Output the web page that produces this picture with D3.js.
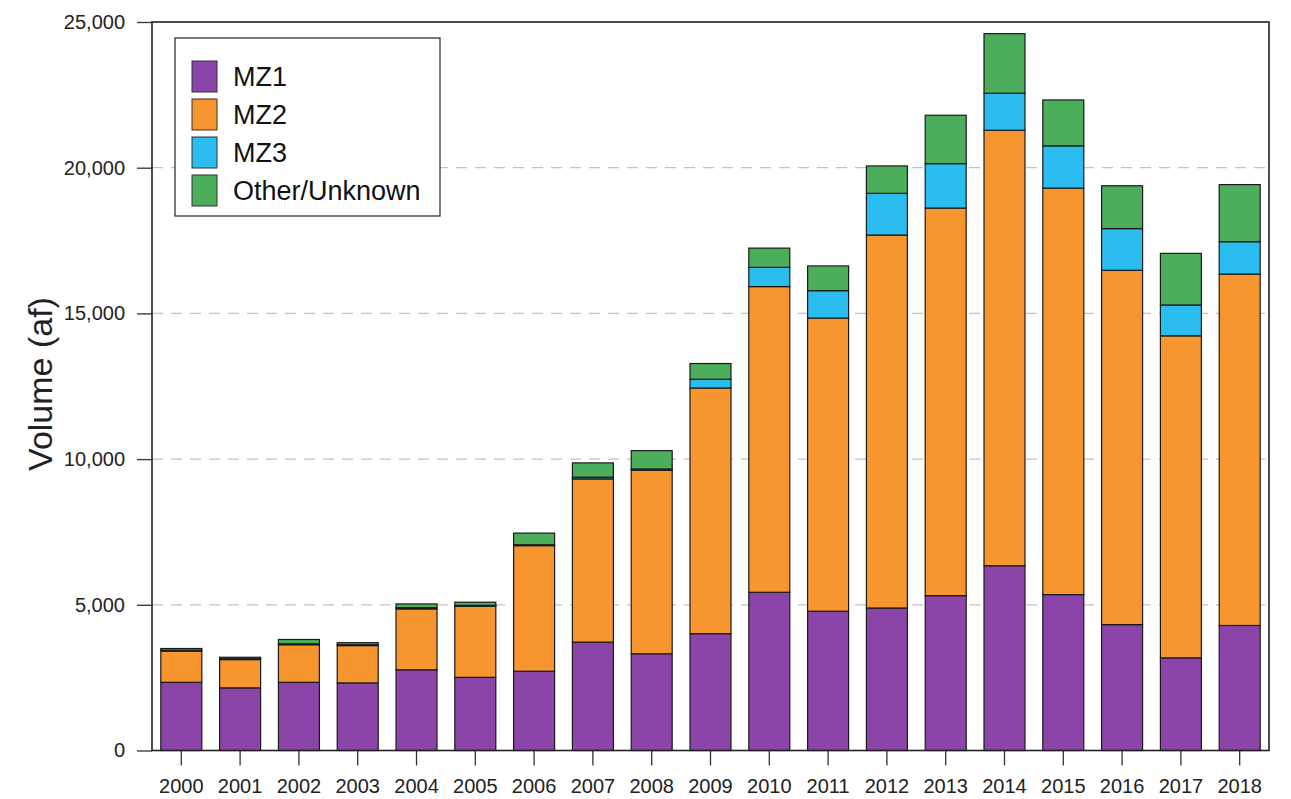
<!DOCTYPE html>
<html>
<head>
<meta charset="utf-8">
<script src="https://cdn.jsdelivr.net/npm/d3@7/dist/d3.min.js"></script>
<style>
  html, body { margin: 0; padding: 0; background: #fff; }
  svg { display: block; font-family: "Liberation Sans", Arial, sans-serif; }
</style>
</head>
<body>
<svg id="chart" width="1291" height="799"></svg>
<script>
const years = ["2000","2001","2002","2003","2004","2005","2006","2007","2008","2009",
               "2010","2011","2012","2013","2014","2015","2016","2017","2018"];
const seriesNames = ["MZ1", "MZ2", "MZ3", "Other/Unknown"];
const mz1   = [2340, 2150, 2340, 2320, 2770, 2510, 2720, 3720, 3320, 4010, 5430, 4780, 4890, 5315, 6340, 5350, 4320, 3180, 4290];
const mz2   = [1070,  970, 1290, 1280, 2090, 2440, 4310, 5600, 6300, 8430, 10490, 10060, 12800, 13300, 14945, 13950, 12160, 11050, 12060];
const mz3   = [  30,   30,   30,   30,   40,   30,   30,   60,   40,  300,  660,  940, 1430, 1525, 1270, 1450, 1430, 1060, 1110];
const other = [  60,   50,  150,   70,  130,  110,  400,  490,  630,  540,  660,  850,  940, 1660, 2045, 1575, 1470, 1770, 1960];
const colors = ["#8b45a9", "#f7962f", "#2cbdf0", "#4cae5a"];
const yTicks = [0, 5000, 10000, 15000, 20000, 25000];
const yTitle = "Volume (af)";

const rows = years.map((y, i) => ({ year: y, "MZ1": mz1[i], "MZ2": mz2[i], "MZ3": mz3[i], "Other/Unknown": other[i] }));
const stacked = d3.stack().keys(seriesNames)(rows);

const svg = d3.select("#chart");
const L = 152, R = 1269, T = 22, B = 750.5;

const x = d3.scaleBand().domain(years).range([L, R]).paddingInner(0.303).paddingOuter(0.15);
const y = d3.scaleLinear().domain([0, 25000]).range([B, T]);

// gridlines
svg.append("g").selectAll("line").data(yTicks.filter(t => t > 0 && t < 25000)).join("line")
  .attr("x1", L).attr("x2", R)
  .attr("y1", d => y(d)).attr("y2", d => y(d))
  .attr("stroke", "#c4c4c4").attr("stroke-width", 1.2).attr("stroke-dasharray", "11,8");

// bars
svg.append("g").selectAll("g").data(stacked).join("g")
  .attr("fill", (d, i) => colors[i])
  .selectAll("rect").data(d => d).join("rect")
  .attr("x", d => x(d.data.year))
  .attr("width", x.bandwidth())
  .attr("y", d => y(d[1]))
  .attr("height", d => y(d[0]) - y(d[1]))
  .attr("stroke", "#1a1a1a").attr("stroke-width", 1.2);

// axes
const yAxis = svg.append("g").attr("transform", `translate(${L},0)`)
  .call(d3.axisLeft(y).tickValues(yTicks).tickSize(15).tickPadding(12).tickFormat(d3.format(",")));
const xAxis = svg.append("g").attr("transform", `translate(0,${B})`)
  .call(d3.axisBottom(x).tickSize(15).tickPadding(9));
[yAxis, xAxis].forEach(g => {
  g.select(".domain").remove();
  g.selectAll(".tick line").attr("stroke", "#333").attr("stroke-width", 1.3);
  g.selectAll(".tick text").attr("font-size", 20).attr("fill", "#222")
    .attr("font-family", "'Liberation Sans', Arial, sans-serif");
});
xAxis.selectAll(".tick text").attr("dy", "0.9em");

// frame
svg.append("rect").attr("x", L).attr("y", T).attr("width", R - L).attr("height", B - T)
  .attr("fill", "none").attr("stroke", "#222").attr("stroke-width", 1.6);

// y title
svg.append("text")
  .attr("transform", `translate(52,384) rotate(-90)`)
  .attr("text-anchor", "middle")
  .attr("font-size", 34).attr("fill", "#222")
  .text(yTitle);

// legend
const lg = svg.append("g");
lg.append("rect").attr("x", 175).attr("y", 38).attr("width", 265).attr("height", 178)
  .attr("fill", "#fff").attr("stroke", "#333").attr("stroke-width", 1.3);
const item = lg.selectAll("g.item").data(seriesNames).join("g")
  .attr("transform", (d, i) => `translate(192,${61 + i * 38})`);
item.append("rect").attr("width", 25).attr("height", 31)
  .attr("fill", (d, i) => colors[i]).attr("stroke", "#333").attr("stroke-width", 1);
item.append("text").attr("x", 41).attr("y", 25)
  .attr("font-size", 27).attr("fill", "#111").text(d => d);
</script>
</body>
</html>
